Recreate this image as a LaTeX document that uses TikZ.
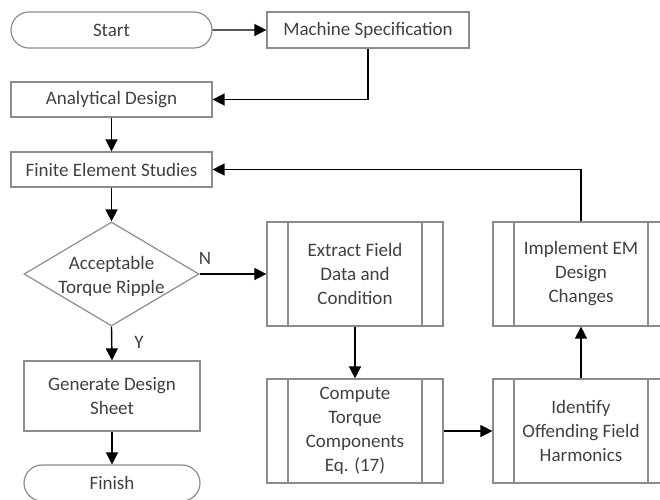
\documentclass[tikz,border=0pt]{standalone}
\usepackage{fontspec}
\setmainfont{Carlito}
\usetikzlibrary{arrows.meta,shapes.geometric,shapes.misc}
\definecolor{boxgray}{HTML}{8C8C8C}
\definecolor{txtgray}{HTML}{404040}
\begin{document}
\begin{tikzpicture}[x=1pt,y=-1pt,
  lbl/.style={text=txtgray, font=\fontsize{19}{24}\selectfont, align=center},
  box/.style={lbl, draw=boxgray, line width=1.2pt, inner sep=0pt},
  term/.style={box, rounded rectangle, minimum width=201pt, minimum height=36pt},
  procbox/.style={box, minimum width=176pt, minimum height=104pt,
    path picture={
      \draw[boxgray, line width=1.2pt]
        ([xshift=21pt]path picture bounding box.north west) -- ([xshift=21pt]path picture bounding box.south west)
        ([xshift=-21pt]path picture bounding box.north east) -- ([xshift=-21pt]path picture bounding box.south east);
    }},
  arr/.style={draw=black, line width=1.4pt, -{Triangle[length=12pt,width=12pt]}}
]
\useasboundingbox (0,0) rectangle (660,499);
\clip (0,0) rectangle (660,499);

\node[term] (start) at (111.5,30) {Start};
\node[box, minimum width=202pt, minimum height=36pt] (spec) at (368,30) {Machine Specification};
\node[box, minimum width=201pt, minimum height=35pt] (ad) at (111.5,99.5) {Analytical Design};
\node[box, minimum width=201pt, minimum height=35pt] (fes) at (111.5,169.5) {Finite Element Studies};
\node[diamond, draw=boxgray, line width=1.2pt, inner sep=0pt, minimum width=175pt, minimum height=104pt] (dec) at (111.5,274) {};
\node[lbl] (dectext) at (111.5,276) {Acceptable\\Torque Ripple};
\node[box, minimum width=176pt, minimum height=70pt] (gen) at (112,396) {Generate Design\\Sheet};
\node[term, minimum width=176pt] (fin) at (112,483) {Finish};

\node[procbox] (ext) at (355,274) {Extract Field\\Data and\\Condition};
\node[procbox] (cmp) at (355,431) {Compute\\Torque\\Components\\Eq. (17)};
\node[procbox] (idf) at (581,431) {Identify\\Offending Field\\Harmonics};
\node[procbox] (imp) at (581,274) {Implement EM\\Design\\Changes};

\draw[arr] (start) -- (spec);
\draw[arr] (spec.south) |- (ad.east);
\draw[arr] (ad) -- (fes);
\draw[arr] (fes) -- (dec.north);
\draw[arr] (dec.east) -- (ext.west);
\node[lbl] (nlab) at (205,258) {N};
\draw[arr] (dec.south) -- (gen.north);
\node[lbl] (ylab) at (139,342) {Y};
\draw[arr] (gen) -- (fin);
\draw[arr] (ext) -- (cmp);
\draw[arr] (cmp) -- (idf);
\draw[arr] (idf) -- (imp);
\draw[arr] (imp.north) |- (fes.east);
\end{tikzpicture}
\end{document}
